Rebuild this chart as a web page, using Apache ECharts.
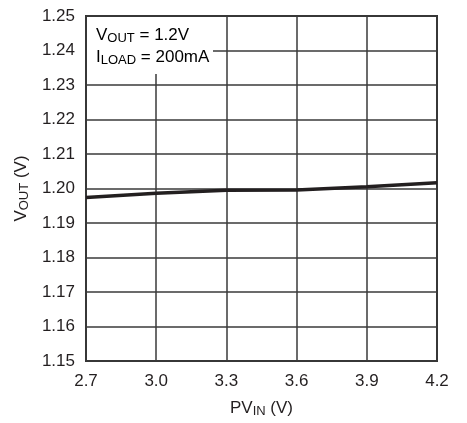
<!DOCTYPE html>
<html><head><meta charset="utf-8">
<script src="https://cdn.jsdelivr.net/npm/echarts@6/dist/echarts.min.js"></script>
<style>html,body{margin:0;padding:0;background:#fff}#c{width:467px;height:423px}</style>
</head><body><div id="c"></div>
<script>
var xValues = [2.7, 3.0, 3.3, 3.6, 3.9, 4.2];
var voutValues = [1.1974, 1.1986, 1.1995, 1.1996, 1.2005, 1.2017];
var xTicks = ['2.7', '3.0', '3.3', '3.6', '3.9', '4.2'];
var yTicks = ['1.15','1.16','1.17','1.18','1.19','1.20','1.21','1.22','1.23','1.24','1.25'];

var FONT = '"Liberation Sans", Arial, sans-serif';
var chart = echarts.init(document.getElementById('c'), null, {renderer: 'canvas'});
var sub = {fontFamily: FONT, fontSize: 13, color: '#231f20', padding: [7, 0, 0, 0]};
var norm = {fontFamily: FONT, fontSize: 17, color: '#231f20'};
chart.setOption({
  animation: false,
  backgroundColor: '#fff',
  grid: {left: 86, right: 30, top: 16, bottom: 56, show: true, borderColor: '#333', borderWidth: 2},
  xAxis: {
    type: 'value', min: 2.7, max: 4.2, interval: 0.3,
    axisLine: {show: false}, axisTick: {show: false},
    splitLine: {show: true, lineStyle: {color: '#3a3a3a', width: 1.5}},
    axisLabel: {margin: 12, fontFamily: FONT, fontSize: 17, color: '#231f20',
      formatter: function (v) { var i = Math.round((v - 2.7) / 0.3); return xTicks[i]; }},
    name: '{n|PV}{s|IN}{n| (V)}', nameLocation: 'middle', nameGap: 37,
    nameTextStyle: {rich: {n: norm, s: sub}}
  },
  yAxis: {
    type: 'value', min: 1.15, max: 1.25, interval: 0.01,
    axisLine: {show: false}, axisTick: {show: false},
    splitLine: {show: true, lineStyle: {color: '#3a3a3a', width: 1.5}},
    axisLabel: {margin: 11, fontFamily: FONT, fontSize: 17, color: '#231f20',
      formatter: function (v) { var i = Math.round((v - 1.15) / 0.01); return yTicks[i]; }},
    name: '{n|V}{s|OUT}{n| (V)}', nameLocation: 'middle', nameGap: 47, nameRotate: 90,
    nameTextStyle: {rich: {n: norm, s: sub}}
  },
  series: [{
    type: 'line', data: xValues.map(function (x, i) { return [x, voutValues[i]]; }),
    showSymbol: false, lineStyle: {color: '#231f20', width: 3.5}, z: 5
  }],
  graphic: [{
    type: 'rect', left: 87, top: 17, shape: {width: 126, height: 57},
    style: {fill: '#fff'}, z: 10
  }, {
    type: 'text', left: 96, top: 25, z: 11,
    style: {
      text: '{n|V}{s|OUT}{n| = 1.2V}\n{n|I}{s|LOAD}{n| = 200mA}',
      rich: {n: Object.assign({lineHeight: 22}, norm), s: Object.assign({lineHeight: 22}, sub)}
    }
  }]
});
</script></body></html>
